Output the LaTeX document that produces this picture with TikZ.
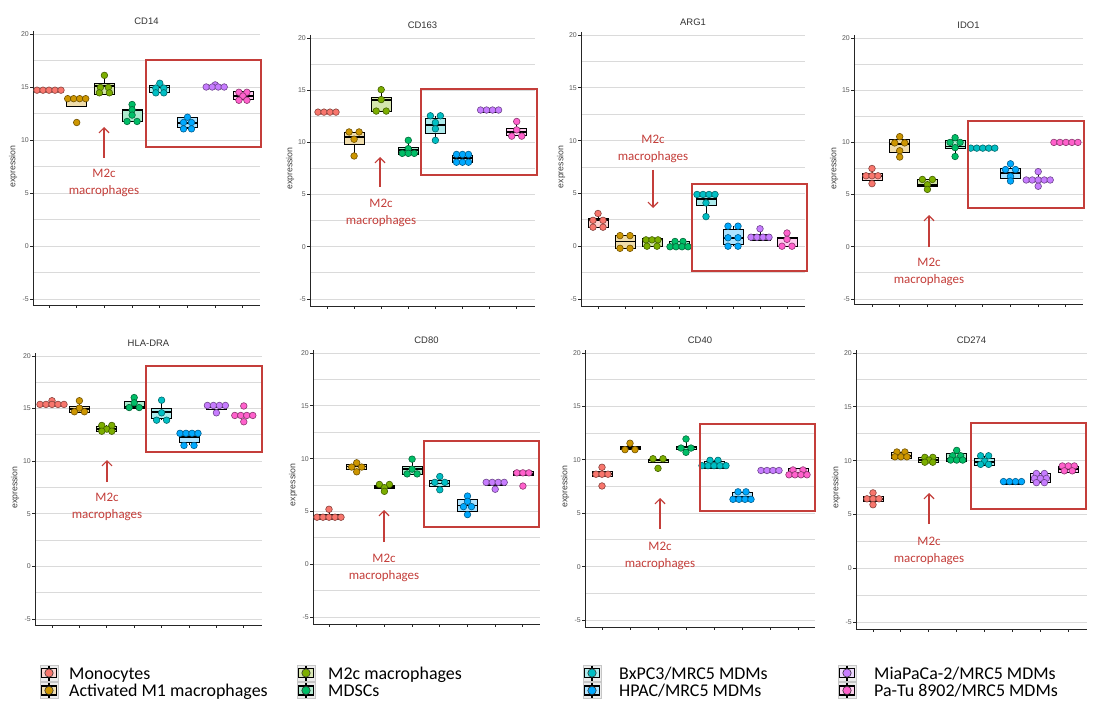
\documentclass[tikz,border=0pt]{standalone}
\usepackage{fontspec}
\setmainfont{Liberation Sans}
\newfontfamily\calib{Carlito}
\usetikzlibrary{arrows.meta}
\definecolor{c1}{RGB}{248,118,109}
\definecolor{c2}{RGB}{205,150,0}
\definecolor{c3}{RGB}{124,174,0}
\definecolor{c4}{RGB}{0,190,103}
\definecolor{c5}{RGB}{0,191,196}
\definecolor{c6}{RGB}{0,169,255}
\definecolor{c7}{RGB}{199,124,255}
\definecolor{c8}{RGB}{255,97,204}
\definecolor{annot}{RGB}{196,62,58}
\definecolor{gridc}{RGB}{218,218,218}
\tikzset{
  gridst/.style={gridc, line width=0.9bp},
  axst/.style={black!85, line width=0.9bp},
  ticklab/.style={font=\fontsize{7}{8}\selectfont, text=black!65, inner sep=0.5bp},
  axlab/.style={font=\fontsize{8.8}{10}\selectfont, text=black!75, inner sep=0},
  titlest/.style={font=\fontsize{9.5}{11}\selectfont, text=black!80, inner sep=0},
  whisk/.style={black, line width=0.7bp},
  boxst/.style={black, line width=0.7bp},
  medst/.style={black, line width=1.8bp},
  dotst/.style={line width=0.6bp},
  redbox/.style={annot, line width=1.4bp},
  annarrow/.style={annot, line width=1.2bp, -{Straight Barb[length=5bp,width=10bp]}},
  anntext/.style={annot, align=center, inner sep=0, font=\calib\fontsize{13}{16.5}\selectfont},
  legbg/.style={rectangle, minimum width=18bp, minimum height=16bp, inner sep=0, fill=gray!15, draw=gray!45, line width=1bp},
  legtext/.style={anchor=base west, inner sep=0, font=\calib\fontsize{18}{20}\selectfont}
}
% panel: axis x, first tick x, spacing, y of 20, y of -5, axis bottom y, right end, title
\newcommand\panel[8]{%
  \def\pax{#1}\def\xone{#2}\def\gsp{#3}\def\ytop{#4}\def\ybot{#5}%
  \foreach \g in {20,17.5,...,-5}{%
    \pgfmathsetmacro\gy{#4+(20-(\g))*(#5-#4)/25}%
    \draw[gridst] (#1,\gy) -- (#7,\gy);
  }%
  \draw[axst] (#1,#4-3) -- (#1,#6) -- (#7,#6);
  \foreach \t in {20,15,...,-5}{%
    \pgfmathsetmacro\gy{#4+(20-(\t))*(#5-#4)/25}%
    \draw[axst] (#1-3,\gy) -- (#1,\gy);
    \node[ticklab, anchor=east] (tl) at (#1-3.5,\gy) {\t};
  }%
  \foreach \i in {0,...,7}{%
    \pgfmathsetmacro\tx{#2+\i*#3}%
    \draw[axst] (\tx,#6) -- (\tx,#6+3);
  }%
  \pgfmathsetmacro\my{(#4+#5)/2}%
  \node[axlab, rotate=90] (yl-#8) at (#1-20,\my) {expression};
  \pgfmathsetmacro\tX{(#1+#7)/2}%
  \pgfmathsetmacro\tY{#4-13}%
  \node[titlest] (title-#8) at (\tX,\tY) {#8};
}
% group: index, whisker low, q1, median, q3, whisker high, points dx/value
\newcommand\grp[7]{%
  \pgfmathsetmacro\gX{\xone+(#1-1)*\gsp}%
  \pgfmathsetmacro\yA{\ytop+(20-(#2))*(\ybot-\ytop)/25}%
  \pgfmathsetmacro\yB{\ytop+(20-(#3))*(\ybot-\ytop)/25}%
  \pgfmathsetmacro\yC{\ytop+(20-(#4))*(\ybot-\ytop)/25}%
  \pgfmathsetmacro\yD{\ytop+(20-(#5))*(\ybot-\ytop)/25}%
  \pgfmathsetmacro\yE{\ytop+(20-(#6))*(\ybot-\ytop)/25}%
  \draw[whisk] (\gX,\yA) -- (\gX,\yE);
  \draw[boxst, fill=c#1!32] (\gX-10,\yB) rectangle (\gX+10,\yD);
  \draw[medst] (\gX-10,\yC) -- (\gX+10,\yC);
  \foreach \dx/\v in {#7}{%
    \pgfmathsetmacro\pY{\ytop+(20-(\v))*(\ybot-\ytop)/25}%
    \pgfmathsetmacro\pX{\gX+(\dx)}%
    \draw[dotst, fill=c#1, draw=c#1!55!black] (\pX,\pY) circle[radius=3.3bp];
  }%
}
\newcommand\legicon[4]{%
  \node[legbg] (#1) at (#2,#3) {};
  \draw[whisk, line width=1.1bp] (#2,#3-7.5) -- (#2,#3+7.5);
  \draw[boxst, line width=1.1bp, fill=#4!30] (#2-7.5,#3-4.5) rectangle (#2+7.5,#3+4.5);
  \draw[dotst, fill=#4, draw=black!80] (#2,#3) circle[radius=4.2bp];
}
\begin{document}
\begin{tikzpicture}[x=1bp, y=-1bp]
\useasboundingbox[fill=white] (0,0) rectangle (1106,711);

% ---------- CD14 ----------
\panel{33}{49}{27.7}{34}{299}{305}{260}{CD14}
\grp{1}{14.6}{14.6}{14.7}{14.8}{14.8}{-12/14.7,-6/14.7,0/14.7,6/14.7,12/14.7}
\grp{2}{13.2}{13.2}{13.85}{14.0}{14.0}{-9/13.9,-3/13.9,3/13.9,9/13.9,0/11.65}
\grp{3}{14.3}{14.3}{15.1}{15.3}{16.1}{0/16.1,-4/14.95,4/14.95,-5/14.45,5/14.45}
\grp{4}{11.75}{11.75}{12.85}{12.9}{13.35}{0/13.35,0/12.85,0/12.35,-5/11.75,5/11.75}
\grp{5}{14.45}{14.45}{14.95}{15.2}{15.35}{0/15.35,-4/14.9,4/14.9,-4/14.45,4/14.45}
\grp{6}{11.05}{11.2}{11.6}{12.1}{12.15}{0/12.15,-4/11.65,4/11.65,-4/11.05,4/11.05}
\grp{7}{14.95}{14.95}{15.05}{15.15}{15.2}{0/15.2,-9/15.0,-3/15.0,3/15.0,9/15.0}
\grp{8}{13.75}{13.8}{14.15}{14.55}{14.55}{-4/14.5,4/14.5,0/14.15,-4/13.75,4/13.75}
\draw[redbox] (146,60) rectangle (261,147);
\coordinate (a1s) at (104,158); \coordinate (a1e) at (104,127);
\draw[annarrow] (a1s) -- (a1e);
\node[anntext] (m1) at (104,183) {M2c\\macrophages};

% ---------- CD163 ----------
\panel{310}{327}{27.1}{38}{299}{306}{535}{CD163}
\grp{1}{12.8}{12.8}{12.9}{13.0}{13.0}{-9/12.9,-3/12.9,3/12.9,9/12.9}
\grp{2}{8.7}{9.8}{10.55}{10.95}{11.0}{-5/11.0,5/11.0,0/10.3,0/8.7}
\grp{3}{13.0}{13.0}{14.05}{14.3}{15.05}{0/15.05,0/14.1,-5/13.0,5/13.0}
\grp{4}{8.9}{8.9}{9.25}{9.55}{10.2}{0/10.2,0/9.4,-6/8.95,0/8.95,6/8.95}
\grp{5}{10.2}{10.85}{11.7}{12.35}{12.55}{-5/12.55,5/12.55,0/11.9,0/11.3,0/10.2}
\grp{6}{8.1}{8.1}{8.5}{8.8}{8.85}{-6/8.85,0/8.85,6/8.85,-6/8.1,0/8.1,6/8.1}
\grp{7}{12.9}{12.9}{13.1}{13.3}{13.3}{-9/13.1,-3/13.1,3/13.1,9/13.1}
\grp{8}{10.65}{10.65}{11.0}{11.35}{12.0}{0/12.0,0/11.2,-5/10.6,5/10.6}
\draw[redbox] (421,89) rectangle (537,175);
\coordinate (a2s) at (380,187); \coordinate (a2e) at (380,157);
\draw[annarrow] (a2s) -- (a2e);
\node[anntext] (m2) at (381,213) {M2c\\macrophages};

% ---------- ARG1 ----------
\panel{581}{598}{27}{35}{299}{306}{805}{ARG1}
\grp{1}{1.8}{1.8}{2.45}{2.67}{3.1}{0/3.1,-5/2.45,5/2.45,-5/1.8,5/1.8}
\grp{2}{-0.2}{-0.2}{0.45}{1.02}{1.02}{-5/1.0,5/1.0,-5/-0.2,5/-0.2}
\grp{3}{0.0}{0.0}{0.65}{0.76}{0.76}{-6/0.6,0/0.6,6/0.6,-5/0.0,5/0.0}
\grp{4}{-0.15}{-0.15}{-0.05}{0.48}{0.48}{-4/0.45,4/0.45,-9/-0.05,-3/-0.05,3/-0.05,9/-0.05}
\grp{5}{2.8}{3.9}{4.5}{4.9}{4.9}{-9/4.9,-3/4.9,3/4.9,9/4.9,0/4.1,0/2.8}
\grp{6}{0.0}{0.13}{0.76}{1.6}{1.9}{-5/1.9,5/1.9,-5/0.8,5/0.8,-5/0.0,5/0.0}
\grp{7}{0.55}{0.55}{0.95}{1.08}{1.65}{0/1.65,-9/0.85,-3/0.85,3/0.85,9/0.85}
\grp{8}{0.0}{0.0}{0.75}{0.82}{1.25}{0/1.25,0/0.65,-5/0.0,5/0.0}
\draw[redbox] (692,184) rectangle (807,271);
\coordinate (a3s) at (653,170); \coordinate (a3e) at (653,208);
\draw[annarrow] (a3s) -- (a3e);
\node[anntext] (m3) at (653,149) {M2c\\macrophages};

% ---------- IDO1 ----------
\panel{854}{872}{27.7}{38}{299}{304}{1083}{IDO1}
\grp{1}{6.05}{6.35}{6.8}{7.05}{7.5}{0/7.5,-6/6.8,0/6.8,6/6.8,0/6.05}
\grp{2}{8.6}{9.05}{9.85}{10.25}{10.55}{0/10.55,-5/9.95,5/9.95,0/9.2,0/8.6}
\grp{3}{5.5}{5.8}{5.9}{6.5}{6.5}{-5/6.45,5/6.45,0/5.95,0/5.5}
\grp{4}{8.65}{9.45}{9.6}{10.15}{10.5}{0/10.45,-5/10.0,5/10.0,0/9.5,0/8.65}
\grp{5}{9.35}{9.35}{9.4}{9.55}{9.55}{-12/9.45,-6/9.45,0/9.45,6/9.45,12/9.45}
\grp{6}{6.3}{6.6}{7.1}{7.55}{7.95}{0/7.95,-5/7.4,5/7.4,0/6.75,0/6.3}
\grp{7}{5.8}{6.3}{6.4}{6.5}{7.2}{0/7.2,-12/6.4,-6/6.4,0/6.4,6/6.4,12/6.4,0/5.8}
\grp{8}{9.95}{9.95}{10.0}{10.05}{10.05}{-12/10.0,-6/10.0,0/10.0,6/10.0,12/10.0}
\draw[redbox] (968,121) rectangle (1084,208);
\coordinate (a4s) at (929,247); \coordinate (a4e) at (929,215);
\draw[annarrow] (a4s) -- (a4e);
\node[anntext] (m4) at (929,272) {M2c\\macrophages};

% ---------- HLA-DRA ----------
\panel{35}{52}{27.4}{356}{619}{625}{262}{HLA-DRA}
\grp{1}{15.35}{15.35}{15.4}{15.45}{15.45}{0/15.75,-12/15.4,-6/15.4,0/15.4,6/15.4,12/15.4}
\grp{2}{14.65}{14.65}{15.0}{15.25}{15.75}{0/15.75,0/15.05,-5/14.7,5/14.7}
\grp{3}{12.8}{12.8}{13.05}{13.35}{13.4}{-5/13.4,5/13.4,0/13.05,-5/12.85,5/12.85}
\grp{4}{15.0}{15.0}{15.15}{15.7}{16.05}{0/16.05,0/15.55,-5/15.1,5/15.1}
\grp{5}{13.9}{14.05}{14.7}{15.05}{15.8}{0/15.8,0/14.6,-5/13.9,5/13.9}
\grp{6}{11.5}{11.75}{12.3}{12.7}{12.7}{-9/12.65,-3/12.65,3/12.65,9/12.65,-5/11.5,5/11.5}
\grp{7}{14.9}{14.9}{15.15}{15.4}{15.4}{-9/15.3,-3/15.3,3/15.3,9/15.3,0/14.6}
\grp{8}{14.3}{14.3}{14.35}{14.4}{14.4}{0/15.25,-9/14.35,-3/14.35,3/14.35,9/14.35,0/13.75}
\draw[redbox] (146,366) rectangle (262,452);
\coordinate (a5s) at (107,482); \coordinate (a5e) at (107,460);
\draw[annarrow] (a5s) -- (a5e);
\node[anntext] (m5) at (107,507) {M2c\\macrophages};

% ---------- CD80 ----------
\panel{313}{329}{27.7}{353}{617}{624}{540}{CD80}
\grp{1}{4.25}{4.25}{4.4}{4.7}{5.2}{0/5.2,-12/4.45,-6/4.45,0/4.45,6/4.45,12/4.45}
\grp{2}{8.75}{9.0}{9.25}{9.5}{9.6}{0/9.6,-5/9.2,5/9.2,0/8.75}
\grp{3}{6.9}{7.15}{7.3}{7.45}{7.55}{-5/7.55,5/7.55,0/7.25,0/6.9}
\grp{4}{8.55}{8.55}{9.0}{9.25}{9.95}{0/9.95,0/9.0,-5/8.55,5/8.55}
\grp{5}{7.05}{7.4}{7.65}{7.95}{8.3}{0/8.3,-5/7.75,5/7.75,0/7.05}
\grp{6}{4.7}{5.05}{5.55}{6.1}{6.45}{0/6.45,0/5.95,-4/5.45,4/5.45,0/4.7}
\grp{7}{7.5}{7.5}{7.6}{7.8}{7.8}{-9/7.75,-3/7.75,3/7.75,9/7.75,0/7.1}
\grp{8}{8.4}{8.4}{8.55}{8.75}{8.75}{-6/8.65,0/8.65,6/8.65,0/7.4}
\draw[redbox] (424,441) rectangle (539,527);
\coordinate (a6s) at (384,542); \coordinate (a6e) at (384,510);
\draw[annarrow] (a6s) -- (a6e);
\node[anntext] (m6) at (384,568) {M2c\\macrophages};

% ---------- CD40 ----------
\panel{585}{602}{28}{353}{620}{627}{815}{CD40}
\grp{1}{8.45}{8.45}{8.65}{8.9}{9.3}{0/9.3,-6/8.65,0/8.65,6/8.65,0/7.55}
\grp{2}{10.95}{10.95}{11.1}{11.25}{11.55}{0/11.55,-5/10.95,5/10.95}
\grp{3}{9.75}{9.75}{9.95}{10.05}{10.1}{-5/10.1,5/10.1,0/9.2}
\grp{4}{10.7}{11.0}{11.15}{11.3}{11.95}{0/11.95,-5/11.1,5/11.1,0/10.7}
\grp{5}{9.2}{9.2}{9.55}{9.85}{9.95}{-4/9.95,4/9.95,-12/9.45,-6/9.45,0/9.45,6/9.45,12/9.45}
\grp{6}{6.25}{6.25}{6.55}{6.95}{7.0}{-4/7.0,4/7.0,-9/6.3,-3/6.3,3/6.3,9/6.3}
\grp{7}{8.8}{8.8}{9.0}{9.15}{9.15}{-9/9.0,-3/9.0,3/9.0,9/9.0}
\grp{8}{8.45}{8.45}{8.75}{9.2}{9.2}{-5/9.05,5/9.05,-9/8.6,-3/8.6,3/8.6,9/8.6}
\draw[redbox] (700,424) rectangle (815,511);
\coordinate (a7s) at (660,529); \coordinate (a7e) at (660,498);
\draw[annarrow] (a7s) -- (a7e);
\node[anntext] (m7) at (660,556) {M2c\\macrophages};

% ---------- CD274 ----------
\panel{856}{873}{27.9}{353}{622}{629}{1087}{CD274}
\grp{1}{5.9}{6.2}{6.4}{6.65}{7.0}{0/7.0,-6/6.45,0/6.45,6/6.45,0/5.9}
\grp{2}{10.2}{10.2}{10.45}{10.75}{10.8}{-4/10.8,4/10.8,-6/10.35,0/10.35,6/10.35}
\grp{3}{9.8}{9.8}{10.05}{10.3}{10.3}{-4/10.3,4/10.3,0/10.05,-4/9.85,4/9.85}
\grp{4}{9.95}{9.95}{10.2}{10.65}{10.95}{0/10.95,-4/10.45,4/10.45,-6/10.05,0/10.05,6/10.05}
\grp{5}{9.6}{9.6}{9.9}{10.2}{10.45}{-4/10.45,4/10.45,0/9.95,-4/9.65,4/9.65}
\grp{6}{7.8}{7.8}{7.95}{8.2}{8.2}{-9/8.05,-3/8.05,3/8.05,9/8.05}
\grp{7}{7.95}{8.0}{8.35}{8.85}{8.85}{-4/8.8,4/8.8,-6/8.35,0/8.35,6/8.35,-4/7.95,4/7.95}
\grp{8}{8.95}{8.95}{9.2}{9.45}{9.5}{-6/9.5,0/9.5,6/9.5,-4/9.05,4/9.05}
\draw[redbox] (971,423) rectangle (1086,509);
\coordinate (a8s) at (929,524); \coordinate (a8e) at (929,493);
\draw[annarrow] (a8s) -- (a8e);
\node[anntext] (m8) at (929,551) {M2c\\macrophages};

% ---------- legend ----------
\legicon{li1}{49}{673}{c1}
\legicon{li2}{49}{690.5}{c2}
\legicon{li3}{306}{673}{c3}
\legicon{li4}{306}{690.5}{c4}
\legicon{li5}{592}{673}{c5}
\legicon{li6}{592}{690.5}{c6}
\legicon{li7}{847}{673}{c7}
\legicon{li8}{847}{690.5}{c8}
\node[legtext] (lt1) at (69,679) {Monocytes};
\node[legtext] (lt2) at (69,696.5) {Activated M1 macrophages};
\node[legtext] (lt3) at (328,679) {M2c macrophages};
\node[legtext] (lt4) at (328,696.5) {MDSCs};
\node[legtext] (lt5) at (619,679) {BxPC3/MRC5 MDMs};
\node[legtext] (lt6) at (619,696.5) {HPAC/MRC5 MDMs};
\node[legtext] (lt7) at (874,679) {MiaPaCa-2/MRC5 MDMs};
\node[legtext] (lt8) at (874,696.5) {Pa-Tu 8902/MRC5 MDMs};
\end{tikzpicture}
\end{document}
